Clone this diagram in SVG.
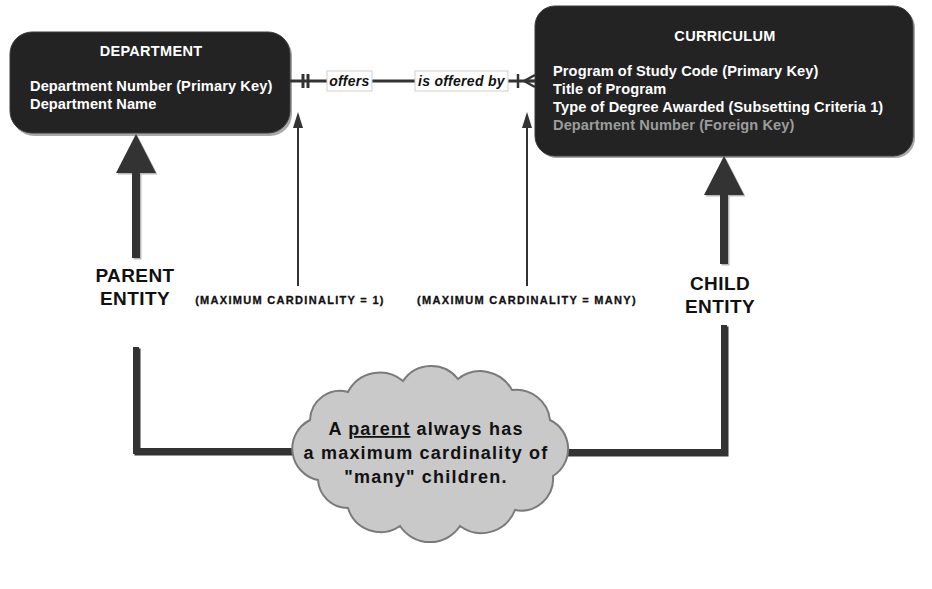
<svg xmlns="http://www.w3.org/2000/svg" width="932" height="589" viewBox="0 0 932 589">
  <style>
    .entity { fill: #232323; stroke: #3a3a3a; stroke-width: 1; }
    .shadow { fill: #a8a8a8; }
    .title { font-family: "Liberation Sans", Arial, sans-serif; font-size: 14.5px; font-weight: bold; fill: #ffffff; text-anchor: middle; letter-spacing: 0.3px; }
    .attr { font-family: "Liberation Sans", Arial, sans-serif; font-size: 14.6px; font-weight: bold; fill: #ffffff; letter-spacing: 0.1px; }
    .fk { fill: #9c9c9c; }
    .big { font-family: "Liberation Sans", Arial, sans-serif; font-size: 19px; font-weight: bold; fill: #111111; text-anchor: middle; letter-spacing: 0.4px; }
    .card { font-family: "Liberation Sans", Arial, sans-serif; font-size: 11px; font-weight: bold; fill: #111111; text-anchor: middle; letter-spacing: 1.3px; stroke: #111111; stroke-width: 0.3px; }
    .rel { font-family: "Liberation Sans", Arial, sans-serif; font-size: 14px; font-style: italic; font-weight: bold; fill: #111111; text-anchor: middle; letter-spacing: 0.3px; }
    .relbox { fill: #ffffff; stroke: #cfcfcf; stroke-width: 1; }
    .line { stroke: #333333; fill: none; }
    .thick { stroke: #333333; stroke-width: 6; fill: none; }
    .cloudtxt { font-family: "Liberation Sans", Arial, sans-serif; font-size: 18px; font-weight: bold; fill: #111111; text-anchor: middle; letter-spacing: 1.2px; }
  </style>

  <rect width="932" height="589" fill="#ffffff"/>

  <!-- Entities -->
  <g id="department">
    <rect class="shadow" x="12" y="34" width="280" height="102" rx="22"/>
    <rect class="entity" x="10" y="32" width="280" height="101" rx="22"/>
    <text class="title" x="151" y="56">DEPARTMENT</text>
    <text class="attr" x="30" y="91">Department Number (Primary Key)</text>
    <text class="attr" x="30" y="109">Department Name</text>
  </g>

  <g id="curriculum">
    <rect class="shadow" x="537" y="8" width="378" height="150" rx="20"/>
    <rect class="entity" x="535" y="6" width="378" height="150" rx="20"/>
    <text class="title" x="725" y="41">CURRICULUM</text>
    <text class="attr" x="553" y="76">Program of Study Code (Primary Key)</text>
    <text class="attr" x="553" y="94">Title of Program</text>
    <text class="attr" x="553" y="112">Type of Degree Awarded (Subsetting Criteria 1)</text>
    <text class="attr fk" x="553" y="130">Department Number (Foreign Key)</text>
  </g>

  <!-- Relationship and pointer connectors -->
  <g id="connectors">
    <!-- offers / is offered by relationship line -->
    <line class="line" x1="290" y1="81" x2="535" y2="81" stroke-width="3"/>
    <line class="line" x1="303" y1="74" x2="303" y2="88" stroke-width="3"/>
    <line class="line" x1="308" y1="74" x2="308" y2="88" stroke-width="3"/>
    <line class="line" x1="518" y1="74" x2="518" y2="88" stroke-width="2.5"/>
    <path class="line" d="M524 81 L535 75 M524 81 L535 81 M524 81 L535 87" stroke-width="2.5"/>
    <rect class="relbox" x="327" y="71" width="45" height="20"/>
    <text class="rel" x="349.5" y="86">offers</text>
    <rect class="relbox" x="415" y="71" width="93" height="20"/>
    <text class="rel" x="461.5" y="86">is offered by</text>

    <!-- thin pointers to the relationship ends -->
    <line class="line" x1="298" y1="126" x2="298" y2="286" stroke-width="2"/>
    <polygon points="298,112 293,128 303,128" fill="#333333"/>
    <line class="line" x1="527" y1="126" x2="527" y2="286" stroke-width="2"/>
    <polygon points="527,112 522,128 532,128" fill="#333333"/>

    <!-- parent entity arrow -->
    <polygon points="137.5,135.5 117.5,174.5 157.5,174.5" fill="#b8b8b8"/>
    <rect x="133.5" y="171.5" width="8" height="88" fill="#b8b8b8"/>
    <polygon points="136,134 116,173 156,173" fill="#333333"/>
    <rect x="132" y="170" width="8" height="88" fill="#333333"/>

    <!-- child entity arrow -->
    <polygon points="725.5,157.5 705.5,196.5 745.5,196.5" fill="#b8b8b8"/>
    <rect x="721.5" y="193.5" width="8" height="72" fill="#b8b8b8"/>
    <polygon points="724,156 704,195 744,195" fill="#333333"/>
    <rect x="720" y="192" width="8" height="72" fill="#333333"/>

    <!-- bracket lines to the note -->
    <path class="thick" d="M136 347 L136 451 L302 451" stroke="#b8b8b8" transform="translate(1.5,1.5)"/>
    <path class="thick" d="M136 347 L136 451 L302 451"/>
    <path class="thick" d="M724 325 L724 452 L558 452" stroke="#b8b8b8" transform="translate(1.5,1.5)"/>
    <path class="thick" d="M724 325 L724 452 L558 452"/>
  </g>

  <!-- Labels -->
  <g id="parent-label">
    <text class="big" x="135" y="282">PARENT</text>
    <text class="big" x="135" y="305">ENTITY</text>
  </g>
  <g id="child-label">
    <text class="big" x="720" y="290">CHILD</text>
    <text class="big" x="720" y="313">ENTITY</text>
  </g>
  <g id="card-one">
    <text class="card" x="290" y="304">(MAXIMUM CARDINALITY = 1)</text>
  </g>
  <g id="card-many">
    <text class="card" x="527" y="304">(MAXIMUM CARDINALITY = MANY)</text>
  </g>

  <!-- Note cloud -->
  <g id="note">
    <path d="M318 480 A32 32 0 0 1 310 420 A30 30 0 0 1 348 392 A36 36 0 0 1 403 381 A34 34 0 0 1 458 379 A36 36 0 0 1 512 390 A34 34 0 0 1 550 420 A32 32 0 0 1 553 476 A32 32 0 0 1 515 510 A36 36 0 0 1 460 526 A36 36 0 0 1 400 526 A34 34 0 0 1 348 508 A30 30 0 0 1 318 480 Z" fill="#c9c9c9" stroke="#7a7a7a" stroke-width="2"/>
    <text class="cloudtxt" x="426" y="435">A <tspan text-decoration="underline">parent</tspan> always has</text>
    <text class="cloudtxt" x="426" y="459">a maximum cardinality of</text>
    <text class="cloudtxt" x="426" y="483">"many" children.</text>
  </g>
</svg>
